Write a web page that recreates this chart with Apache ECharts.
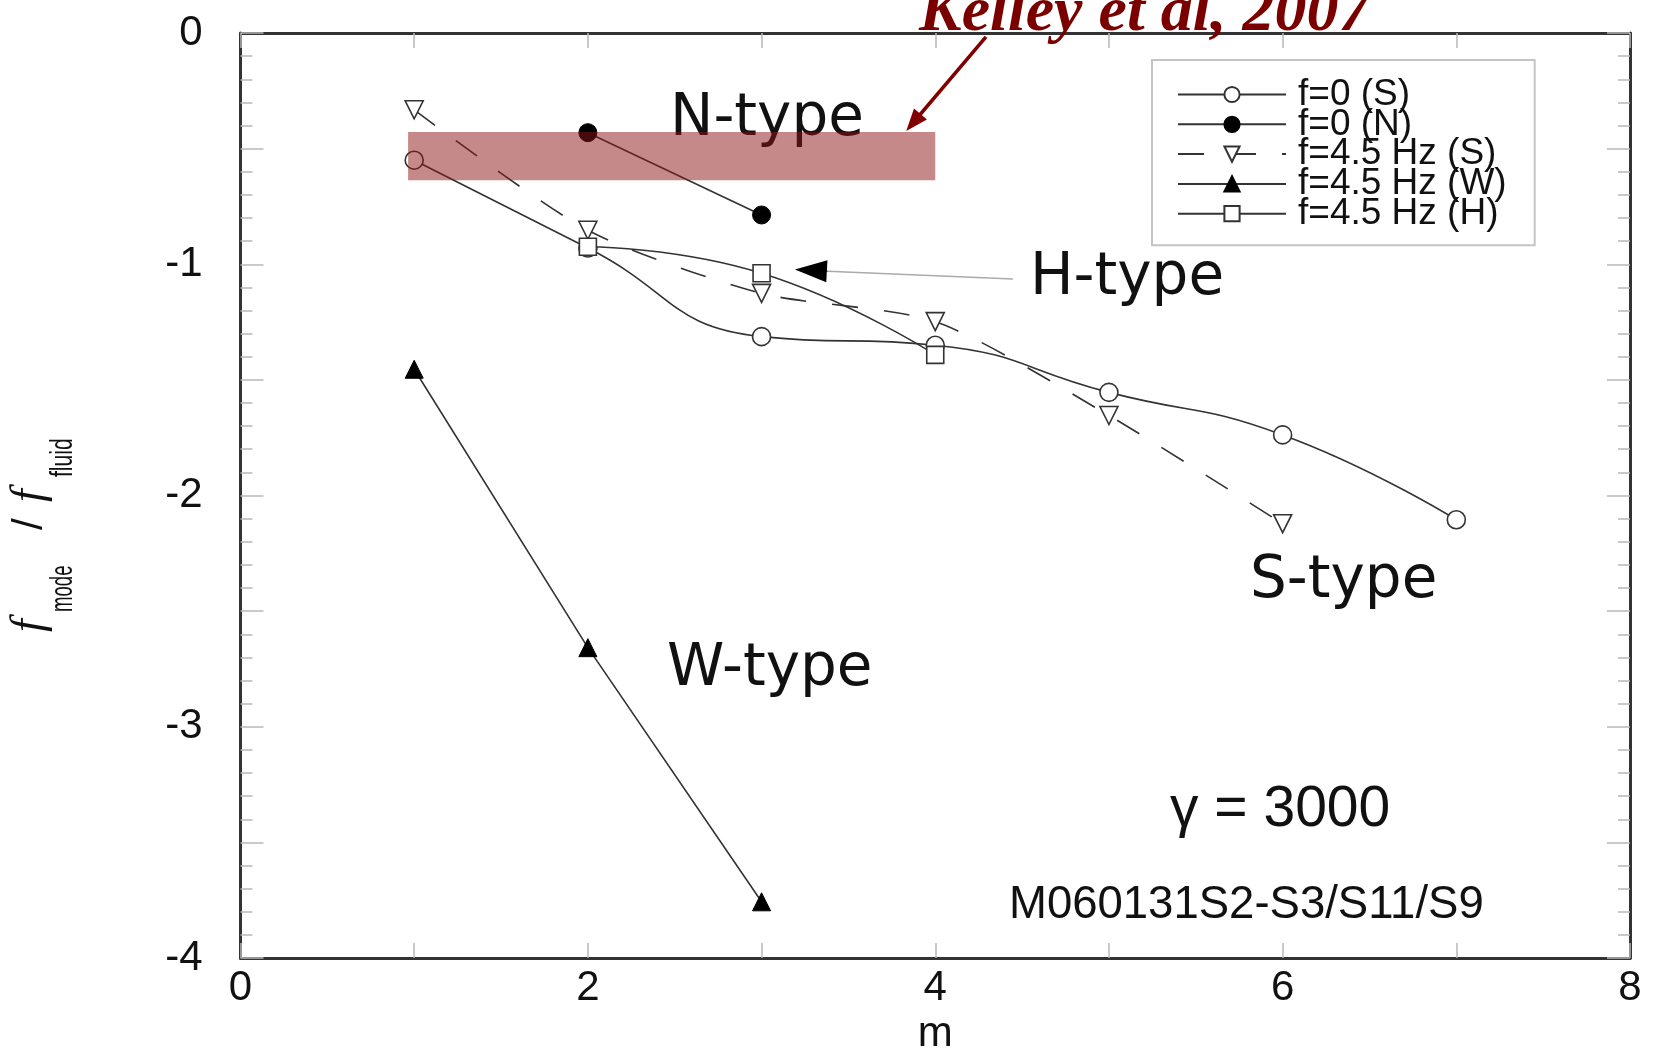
<!DOCTYPE html>
<html>
<head>
<meta charset="utf-8">
<title>f_mode / f_fluid vs m</title>
<script src="https://cdn.jsdelivr.net/npm/echarts@6/dist/echarts.min.js"></script>
<style>
  html, body { margin: 0; padding: 0; background: #fff; }
  #chart { width: 1654px; height: 1048px; }
</style>
</head>
<body>
<div id="chart"></div>
<script>
// poloidal mode number m and f_mode / f_fluid for each case
const mS0 = [1, 2, 3, 4, 5, 6, 7];
const fS0 = [-0.55, -0.93, -1.313, -1.35, -1.554, -1.738, -2.105];
const mN0 = [2, 3];
const fN0 = [-0.431, -0.787];
const mS45 = [1, 2, 3, 4, 5, 6];
const fS45 = [-0.332, -0.853, -1.126, -1.248, -1.654, -2.122];
const mW45 = [1, 2, 3];
const fW45 = [-1.454, -2.658, -3.757];
const mH45 = [2, 3, 4];
const fH45 = [-0.924, -1.039, -1.392];

const seriesNames = ['f=0 (S)', 'f=0 (N)', 'f=4.5 Hz (S)', 'f=4.5 Hz (W)', 'f=4.5 Hz (H)'];

// Kelley et al 2007 band (m range, f range)
const kelleyM = [0.965, 4.0];
const kelleyF = [-0.428, -0.637];
// arrows: [m, f] start -> end
const kelleyArrow = [[4.292, -0.017], [3.874, -0.387]];
const hArrowLine = [[4.447, -1.064], [3.38, -1.03]];
const hArrowHead = [[3.38, -1.03], [3.284, -1.026]];

const zip = (xs, ys) => xs.map((x, i) => [x, ys[i]]);

const INK = '#333';
const TICK = '#b8b8b8';

function lineSeries(name, xs, ys, opts) {
    return Object.assign({
        name: name,
        type: 'line',
        data: zip(xs, ys),
        symbolSize: 18,
        lineStyle: { color: INK, width: 1.6 },
        itemStyle: { color: '#fff', borderColor: INK, borderWidth: 1.6 },
        emphasis: { disabled: true },
        silent: true
    }, opts);
}

const isInt = v => Math.abs(v - Math.round(v)) < 1e-9;

const baseY = {
    type: 'value', min: -4, max: 0, interval: 0.5,
    axisLine: { show: true, onZero: false, lineStyle: { color: INK, width: 3 } },
    axisTick: { show: true, inside: true, length: 23, lineStyle: { color: TICK, width: 1.5 } },
    minorTick: { show: true, splitNumber: 5, length: 12, lineStyle: { color: TICK, width: 1.5 } },
    splitLine: { show: false }
};
const baseX = {
    type: 'value', min: 0, max: 8, interval: 1,
    axisLine: { show: true, onZero: false, lineStyle: { color: INK, width: 3 } },
    axisTick: { show: true, inside: true, length: 15, lineStyle: { color: TICK, width: 1.5 } },
    splitLine: { show: false }
};

const labelFont = { fontFamily: 'Liberation Sans', color: '#111' };

const option = {
    animation: false,
    backgroundColor: '#fff',
    grid: { left: 240.5, right: 24, top: 33, bottom: 90, outerBoundsMode: 'none', containLabel: false },
    xAxis: [
        Object.assign({}, baseX, {
            position: 'bottom',
            name: 'm', nameLocation: 'middle', nameGap: 55,
            nameTextStyle: Object.assign({ fontSize: 42 }, labelFont),
            axisLabel: Object.assign({
                fontSize: 42, margin: 9,
                formatter: v => (Math.round(v) % 2 === 0 ? String(v) : '')
            }, labelFont)
        }),
        Object.assign({}, baseX, { position: 'top', axisLabel: { show: false } })
    ],
    yAxis: [
        Object.assign({}, baseY, {
            position: 'left',
            axisLabel: Object.assign({
                fontSize: 42, margin: 38,
                formatter: v => (isInt(v) ? String(Math.round(v)) : '')
            }, labelFont)
        }),
        Object.assign({}, baseY, { position: 'right', axisLabel: { show: false } })
    ],
    legend: {
        data: seriesNames,
        orient: 'vertical',
        left: 1152, top: 60,
        padding: [16, 28, 13, 25],
        itemWidth: 108, itemHeight: 19, itemGap: -7.2,
        selectedMode: false,
        borderColor: '#c4c4c4', borderWidth: 2,
        backgroundColor: '#fff',
        textStyle: { fontFamily: 'Liberation Sans', fontSize: 37, color: '#111', padding: [0, 0, 0, 7] }
    },
    series: [
        lineSeries(seriesNames[0], mS0, fS0, { symbol: 'circle', smooth: 0.5 }),
        lineSeries(seriesNames[1], mN0, fN0, {
            symbol: 'circle',
            itemStyle: { color: '#000', borderColor: '#000', borderWidth: 1 }
        }),
        lineSeries(seriesNames[2], mS45, fS45, {
            symbol: 'triangle', symbolRotate: 180, smooth: 0.25,
            lineStyle: { color: INK, width: 1.6, type: [26, 26] }
        }),
        lineSeries(seriesNames[3], mW45, fW45, {
            symbol: 'triangle',
            itemStyle: { color: '#000', borderColor: '#000', borderWidth: 1 }
        }),
        lineSeries(seriesNames[4], mH45, fH45, { symbol: 'rect', symbolSize: 17, smooth: 0.5 }),
        {
            name: 'annot',
            type: 'line',
            data: [],
            silent: true,
            markArea: {
                z: 10,
                silent: true,
                itemStyle: { color: 'rgba(140, 20, 20, 0.5)' },
                data: [[{ coord: [kelleyM[0], kelleyF[0]] }, { coord: [kelleyM[1], kelleyF[1]] }]]
            },
            markLine: {
                z: 11,
                silent: true,
                symbol: ['none', 'none'],
                label: { show: false },
                emphasis: { disabled: true },
                data: [
                    [
                        { coord: kelleyArrow[0], lineStyle: { color: '#800000', width: 3.5, type: 'solid' } },
                        { coord: kelleyArrow[1], symbol: 'triangle', symbolSize: [17, 22] }
                    ],
                    [
                        { coord: hArrowLine[0], lineStyle: { color: '#aaa', width: 1.5, type: 'solid' } },
                        { coord: hArrowLine[1] }
                    ],
                    [
                        { coord: hArrowHead[0], lineStyle: { color: '#000', width: 1, type: 'solid' } },
                        { coord: hArrowHead[1], symbol: 'triangle', symbolSize: [22, 32] }
                    ]
                ]
            }
        }
    ],
    graphic: [
        {
            type: 'text', x: 919, y: 13, z: 1,
            style: { text: 'Kelley et al, 2007', font: 'italic bold 64px "Liberation Serif"', fill: '#7a0000', verticalAlign: 'middle' }
        },
        { type: 'text', x: 670, y: 120, z: 1, style: { text: 'N-type', font: '58px "DejaVu Sans"', fill: '#111', verticalAlign: 'middle' } },
        { type: 'text', x: 1030, y: 279, z: 1, style: { text: 'H-type', font: '58px "DejaVu Sans"', fill: '#111', verticalAlign: 'middle' } },
        { type: 'text', x: 1250, y: 582, z: 1, style: { text: 'S-type', font: '58px "DejaVu Sans"', fill: '#111', verticalAlign: 'middle' } },
        { type: 'text', x: 667, y: 670, z: 1, style: { text: 'W-type', font: '58px "DejaVu Sans"', fill: '#111', verticalAlign: 'middle' } },
        { type: 'text', x: 1170, y: 810, z: 1, style: { text: 'γ = 3000', font: '57px "Liberation Sans"', fill: '#111', verticalAlign: 'middle' } },
        { type: 'text', x: 1009, y: 905, z: 1, style: { text: 'M060131S2-S3/S11/S9', font: '45.5px "Liberation Sans"', fill: '#111', verticalAlign: 'middle' } },
        {
            // y axis title: f_mode / f_fluid, read bottom to top
            type: 'group', x: 30, y: 632, rotation: Math.PI / 2,
            children: [
                { type: 'text', x: 0, y: 0, style: { text: 'f', font: 'italic 46px "Liberation Serif"', fill: '#111', verticalAlign: 'middle' } },
                { type: 'text', x: 20, y: 33, scaleX: 0.6, style: { text: 'mode', font: '31px "Liberation Sans"', fill: '#111', verticalAlign: 'middle' } },
                { type: 'text', x: 102, y: 0, style: { text: '/', font: '42px "Liberation Sans"', fill: '#111', verticalAlign: 'middle' } },
                { type: 'text', x: 130, y: 0, style: { text: 'f', font: 'italic 46px "Liberation Serif"', fill: '#111', verticalAlign: 'middle' } },
                { type: 'text', x: 155, y: 33, scaleX: 0.68, style: { text: 'fluid', font: '31px "Liberation Sans"', fill: '#111', verticalAlign: 'middle' } }
            ]
        }
    ]
};

const chart = echarts.init(document.getElementById('chart'));
chart.setOption(option);
</script>
</body>
</html>
